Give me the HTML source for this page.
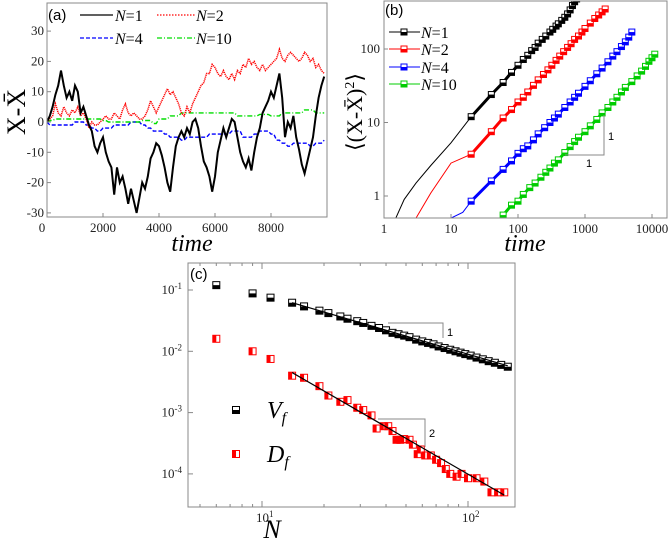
<!DOCTYPE html>
<html><head><meta charset="utf-8"><style>
body{margin:0;background:#fff}
svg{display:block;font-family:"Liberation Serif",serif}
.tk{font-size:13px;fill:#222}
</style></head><body>
<svg id="s" width="668" height="542" viewBox="0 0 668 542">
<g id="ga"></g>
<g id="gb"></g>
<g id="gc"></g>
</svg>
<script>
// ---------- Panel (a) data ----------
const aTimes=[];for(let i=0;i<100;i++)aTimes.push(i*100);
const aN1=[0,2,5,9,12,17,12,8,10,7,12,10,3,5,2,-1,-3,-8,-10,-7,-5,-10,-13,-15,-24,-15,-20,-18,-22,-27,-22,-26,-30,-25,-20,-22,-18,-12,-10,-7,-8,-11,-15,-20,-23,-15,-8,-5,-3,-5,-2,-4,0,1,-2,-8,-13,-15,-18,-23,-18,-10,-6,-2,-5,-2,1,0,-5,-10,-13,-15,-12,-16,-10,-5,-2,3,5,7,10,8,12,16,8,-5,0,-2,2,-5,-9,-14,-17,-13,-9,-5,2,8,12,15];
const aN2=[0,1,2,6,3,2,5,3,2,4,3,5,2,3,1,-2,0,-1,-1,0,1,2,1,1,3,2,1,4,6,3,2,3,2,1,1,2,4,7,5,3,5,7,9,11,9,10,8,6,3,2,5,3,6,8,10,12,13,16,16,19,18,16,15,17,15,14,16,14,17,16,19,18,21,19,20,18,17,19,17,18,19,20,21,24,21,20,22,23,22,21,20,21,23,22,20,21,18,19,17,16];
const aN4=[0,-1,-1,-1,-1,-1,-1,-1,-1,-1,0,0,0,0,-1,-1,-2,-2,-3,-3,-2,-2,-2,-2,-1,-1,-1,-1,-1,-1,0,0,0,0,-1,-1,-2,-2,-3,-3,-3,-3,-4,-4,-5,-5,-5,-5,-6,-6,-5,-5,-5,-5,-5,-5,-5,-5,-4,-4,-4,-4,-4,-4,-4,-4,-3,-3,-3,-3,-5,-5,-5,-5,-4,-4,-3,-3,-3,-3,-4,-4,-6,-6,-7,-7,-8,-8,-7,-7,-7,-7,-7,-7,-8,-8,-7,-7,-7,-6];
const aN10=[0,0.5,0.5,1,1,1,1,1,1,1,1,1,1,1,1,1,1,1,1,1,0.5,0.5,0,0,0,0,0,0,0,0,0,0,0,0,0.5,0.5,0.5,0.5,-0.5,-0.5,1,1,1,1,2,2,2,2,3,3,3,3,3,3,3,3,3,3,3,3,3,3,3,3,3,3,3,3,2,2,2,2,2,2,2,2,2.5,2.5,2.5,2.5,2,2,2,2,3,3,3,3,3,3,3,3,4,4,4,4,3,3,3,3];
const aXTicks=[0,2000,4000,6000,8000];
const aYTicks=[-30,-20,-10,0,10,20,30];
// ---------- Panel (b) data ----------
const bLineT1=[1.5,2,3,5,10,20],bLineV1=[0.5,0.9,1.5,2.6,5.3,12];
const bLineT2=[3,5,10,20],bLineV2=[0.5,1.1,2.8,3.7];
const bLineT4=[10,15,20],bLineV4=[0.5,0.6,0.85];
const bT1=[20,40,60,80,100,120,140,160,180,200,230,260,300,330,370,400,450,500,550,600,650,700,750];
const bV1=[12,24,35,48,60,72,82,95,105,120,135,150,170,185,205,220,245,270,300,340,390,440,480];
const bT2=[20,40,60,80,100,120,140,170,200,240,280,320,370,420,480,550,620,700,800,900,1000,1200,1400,1600,1800,2000];
const bV2=[3.7,7.5,11.5,15,19,22,26,32,38,45,52,60,70,80,92,105,118,135,150,170,190,225,260,290,320,350];
const bT4=[20,40,60,80,100,120,140,170,200,250,300,350,400,500,600,700,800,1000,1200,1500,1800,2200,2600,3000,3500,4000,4500,5000];
const bV4=[0.85,1.6,2.3,3,3.8,4.4,4.8,5.8,7,8.5,10,11.5,13,16,19,22,25,31,37,46,55,67,80,92,108,125,145,170];
const bT10=[60,80,100,120,150,180,220,260,300,350,400,500,600,700,800,1000,1200,1500,1800,2200,2600,3000,3500,4000,5000,6000,7000,8000,9000,10000,11000];
const bV10=[0.55,0.75,0.85,1.05,1.3,1.5,1.8,2.1,2.4,2.8,3.1,3.9,4.7,5.5,6.3,7.5,9,11,13.5,16,19,22,26,30,36,43,50,58,68,76,85];
const bXTicks=[1,10,100,1000,10000];
const bYTicks=[1,10,100];
// ---------- Panel (c) data ----------
const cNv=[6,9,11,14,16,19,21,24,26,29,31,34,37,40,43,46,49,52,56,60,64,68,72,77,82,87,92,97,103,110,118,126,135,145,156];
const cVf=[0.12,0.088,0.075,0.062,0.054,0.046,0.042,0.037,0.034,0.031,0.029,0.026,0.024,0.022,0.020,0.019,0.018,0.017,0.0155,0.0145,0.0137,0.013,0.012,0.0113,0.0106,0.01,0.0095,0.009,0.0085,0.0079,0.0074,0.0069,0.0065,0.006,0.0056];
const cNd=[6,9,11,14,16,19,21,24,26,29,31,34,36,39,41,43,45,47,49,52,54,57,59,62,66,70,74,78,82,88,93,100,110,120,130,140,150];
const cDf=[0.016,0.01,0.0075,0.004,0.0037,0.0027,0.0019,0.0015,0.0016,0.0012,0.0011,0.0009,0.00055,0.0006,0.0006,0.0005,0.00036,0.00036,0.00037,0.00036,0.0003,0.00021,0.00025,0.0002,0.0002,0.00017,0.00015,0.00012,0.0001,0.00009,0.0001,0.000085,0.000085,0.000075,0.00005,0.00005,0.00005];
const cFitN=[14,156],cFitV=[0.062,0.0058];
const cFitNd=[14,150],cFitD=[0.0045,0.000045];

const NS="http://www.w3.org/2000/svg";
function mk(p,tag,at,txt){const e=document.createElementNS(NS,tag);for(const k in at)e.setAttribute(k,at[k]);if(txt!==undefined)e.textContent=txt;p.appendChild(e);return e;}
const lg=Math.log10;

// ===== Panel a =====
(function(){
const g=document.getElementById('ga');
const X=t=>47+t*0.028, Y=v=>122-v*3.03;
const defs=mk(g,'clipPath',{id:'ca'});mk(defs,'rect',{x:47,y:3,width:280,height:214});
function ser(arr,col,dash,w,name){
 let d='';arr.forEach((v,i)=>{d+=(i?'L':'M')+X(aTimes[i]).toFixed(1)+' '+Y(v).toFixed(1);});
 const p=mk(g,'path',{d:d,fill:'none',stroke:col,'stroke-width':w,'stroke-dasharray':dash,'clip-path':'url(#ca)'});
 
 
}
ser(aN4,'#00f','4 2',1.4,'series-n4');ser(aN10,'#0d0','5 2 1 2',1.4,'series-n10');ser(aN2,'#f00','1.2 0.8',1.5,'series-n2');ser(aN1,'#000','',2,'series-n1');
const r=mk(g,'rect',{x:47,y:3,width:280,height:214,fill:'none',stroke:'#888','stroke-width':1});


aYTicks.forEach(v=>{mk(g,'line',{x1:47,x2:51,y1:Y(v),y2:Y(v),stroke:'#888'});
 const t=mk(g,'text',{x:44,y:Y(v)+4,'text-anchor':'end',class:'tk'},String(v));
 
 });
aXTicks.forEach(v=>{mk(g,'line',{x1:X(v),x2:X(v),y1:217,y2:213,stroke:'#888'});
 const t=mk(g,'text',{x:v===0?42:X(v),y:232,'text-anchor':'middle',class:'tk'},String(v));
 
 });
})();

// ===== Panel b =====
(function(){
const g=document.getElementById('gb');
const X=t=>384+67*lg(t), Y=v=>196-73.5*lg(v);
const cp=mk(g,'clipPath',{id:'cb'});mk(cp,'rect',{x:384,y:1,width:283,height:217});
const cols=['#000','#f00','#00f','#0c0'];
const sets=[[bLineT1,bLineV1,bT1,bV1],[bLineT2,bLineV2,bT2,bV2],[bLineT4,bLineV4,bT4,bV4],[[],[],bT10,bV10]];
const names=['n1','n2','n4','n10'];
sets.forEach((s,k)=>{
 const T=s[0].concat(s[2]),V=s[1].concat(s[3]);
 let d='';T.forEach((t,i)=>{d+=(i?'L':'M')+X(t).toFixed(1)+' '+Y(V[i]).toFixed(1);});
 const p=mk(g,'path',{d:d,fill:'none',stroke:cols[k],'stroke-width':1,'clip-path':'url(#cb)'});
 
 
 let d2='';s[2].forEach((t,i)=>{d2+=(i?'L':'M')+X(t).toFixed(1)+' '+Y(s[3][i]).toFixed(1);});
 const p2=mk(g,'path',{d:d2,fill:'none',stroke:cols[k],'stroke-width':3,'clip-path':'url(#cb)'});
 
 
 s[2].forEach((t,i)=>{const x=X(t),y=Y(s[3][i]);
  const m=mk(g,'g',{'clip-path':'url(#cb)'});
  
  
  mk(m,'rect',{x:x-3,y:y-3,width:6,height:6,fill:'#fff',stroke:cols[k],'stroke-width':1});
  mk(m,'rect',{x:x-3,y:y,width:6,height:3,fill:cols[k]});});
});
const r=mk(g,'rect',{x:384,y:1,width:283,height:217,fill:'none',stroke:'#888'});


bXTicks.forEach(v=>{const t=mk(g,'text',{x:X(v),y:233,'text-anchor':'middle',class:'tk'},String(v));
 
 
 mk(g,'line',{x1:X(v),x2:X(v),y1:218,y2:214,stroke:'#888'});});
bYTicks.forEach(v=>{const t=mk(g,'text',{x:380,y:Y(v)+4,'text-anchor':'end',class:'tk'},String(v));
 
 
 mk(g,'line',{x1:384,x2:388,y1:Y(v),y2:Y(v),stroke:'#888'});});
const lab=['N=1','N=2','N=4','N=10'];const ly=[32,49,67,84];
lab.forEach((l,k)=>{const e=mk(g,'g',{});
 
 
 mk(e,'line',{x1:389,x2:420,y1:ly[k],y2:ly[k],stroke:cols[k],'stroke-width':1});
 mk(e,'rect',{x:401,y:ly[k]-3,width:6,height:6,fill:'#fff',stroke:cols[k]});
 mk(e,'rect',{x:401,y:ly[k],width:6,height:3,fill:cols[k]});
 const t=mk(e,'text',{x:421,y:ly[k]+6,'font-size':16});
 mk(t,'tspan',{'font-style':'italic'},'N');mk(t,'tspan',{},l.slice(1));});
})();

// ===== Panel c =====
(function(){
const g=document.getElementById('gc');
const X=n=>262+206*(lg(n)-1), Y=v=>290-61.3*(lg(v)+1);
function fit(N,V,name){const p=mk(g,'line',{x1:X(N[0]),y1:Y(V[0]),x2:X(N[1]),y2:Y(V[1]),stroke:'#000','stroke-width':1.2});
 
 }
function mkV(x,y){const m=mk(g,'g',{});
 
 
 mk(m,'rect',{x:x-3.5,y:y-3.5,width:7,height:7,fill:'#fff',stroke:'#000'});
 mk(m,'rect',{x:x-3.5,y:y,width:7,height:3.5,fill:'#000'});}
function mkD(x,y){const m=mk(g,'g',{});
 
 
 mk(m,'rect',{x:x-3.5,y:y-3.5,width:7,height:7,fill:'#fff',stroke:'#f00'});
 mk(m,'rect',{x:x-3.5,y:y-3.5,width:3.5,height:7,fill:'#f00'});}
cNv.forEach((n,i)=>mkV(X(n),Y(cVf[i])));
cNd.forEach((n,i)=>mkD(X(n),Y(cDf[i])));
fit(cFitN,cFitV,'vf-fit-line');fit(cFitNd,cFitD,'df-fit-line');
const r=mk(g,'rect',{x:188,y:263,width:327,height:244,fill:'none',stroke:'#888'});


[-1,-2,-3,-4].forEach(e=>{const y=Y(Math.pow(10,e));
 mk(g,'line',{x1:188,x2:193,y1:y,y2:y,stroke:'#888'});
 const t=mk(g,'text',{x:182,y:y+4,'text-anchor':'end',class:'tk'});
 
 
 mk(t,'tspan',{},'10');mk(t,'tspan',{dy:-5,'font-size':9},String(e));});
[1,2].forEach(e=>{const x=X(Math.pow(10,e));
 mk(g,'line',{x1:x,x2:x,y1:507,y2:501,stroke:'#888'});mk(g,'line',{x1:x,x2:x,y1:263,y2:269,stroke:'#888'});
 const t=mk(g,'text',{x:x-6,y:522,class:'tk'});
 
 
 mk(t,'tspan',{},'10');mk(t,'tspan',{dy:-5,'font-size':9},String(e));});
[5,6,7,8,9,20,30,40,50,60,70,80,90].forEach(n=>{const x=X(n);mk(g,'line',{x1:x,x2:x,y1:507,y2:504,stroke:'#888'});mk(g,'line',{x1:x,x2:x,y1:263,y2:266,stroke:'#888'});});
})();
</script>
<svg width="668" height="542" viewBox="0 0 668 542" style="position:absolute;left:0;top:0">
<g font-family="Liberation Serif,serif">
<text x="48" y="20" font-family="Liberation Sans,sans-serif" font-size="15">(a)</text>
<g>
<line x1="80" y1="15" x2="113" y2="15" stroke="#000" stroke-width="1.3"/>
<text x="115" y="21" font-size="16"><tspan font-style="italic">N</tspan>=1</text>
<line x1="157" y1="15" x2="195" y2="15" stroke="#f00" stroke-width="1.3" stroke-dasharray="1.5 1.5"/>
<text x="196" y="21" font-size="16"><tspan font-style="italic">N</tspan>=2</text>
<line x1="80" y1="38" x2="113" y2="38" stroke="#00f" stroke-width="1.3" stroke-dasharray="4 2"/>
<text x="115" y="44" font-size="16"><tspan font-style="italic">N</tspan>=4</text>
<line x1="157" y1="38" x2="195" y2="38" stroke="#0d0" stroke-width="1.3" stroke-dasharray="5 2 1 2"/>
<text x="196" y="44" font-size="16"><tspan font-style="italic">N</tspan>=10</text>
</g>
<text transform="translate(25,112) rotate(-90)" text-anchor="middle" font-size="26">X-X̄</text>
<text x="192" y="251" text-anchor="middle" font-size="24" font-style="italic">time</text>
<text x="385" y="15" font-family="Liberation Sans,sans-serif" font-size="15">(b)</text>
<text transform="translate(362,112) rotate(-90)" text-anchor="middle" font-size="22">⟨(X-X̄)<tspan dy="-8" font-size="14">2</tspan><tspan dy="8">⟩</tspan></text>
<text x="525" y="251" text-anchor="middle" font-size="24" font-style="italic">time</text>
<g stroke="#888" fill="none">
<polyline points="604,115 604,155 565,155"/></g>
<text x="608" y="140" font-family="Liberation Sans,sans-serif" font-size="11">1</text>
<text x="586" y="167" font-family="Liberation Sans,sans-serif" font-size="11">1</text>
<text x="190" y="279" font-family="Liberation Sans,sans-serif" font-size="15">(c)</text>
<g stroke="#888" fill="none"><polyline points="388,323 443,323 443,338"/></g>
<text x="447" y="336" font-family="Liberation Sans,sans-serif" font-size="11">1</text>
<g stroke="#888" fill="none"><polyline points="378,419 425,419 425,447"/></g>
<text x="429" y="437" font-family="Liberation Sans,sans-serif" font-size="11">2</text>
<g>
<rect x="232.5" y="406.5" width="7" height="7" fill="#fff" stroke="#000"/><rect x="232.5" y="410" width="7" height="3.5" fill="#000"/>
<text x="267" y="418" font-size="24" font-style="italic">V<tspan dy="5" font-size="16">f</tspan></text></g>
<g>
<rect x="232.5" y="450.5" width="7" height="7" fill="#fff" stroke="#f00"/><rect x="232.5" y="450.5" width="3.5" height="7" fill="#f00"/>
<text x="267" y="462" font-size="24" font-style="italic">D<tspan dy="5" font-size="16">f</tspan></text></g>
<text x="272" y="538" text-anchor="middle" font-size="26" font-style="italic">N</text>
</g></svg>
</body></html>
